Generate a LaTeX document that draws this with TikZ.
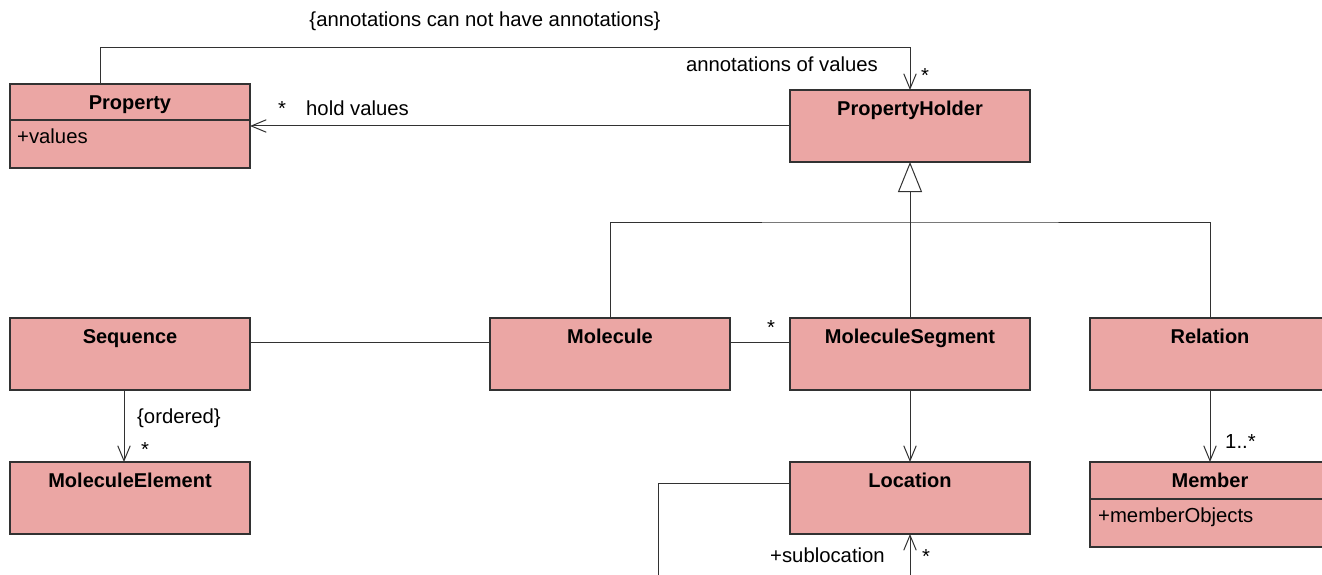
\documentclass[tikz,border=0pt]{standalone}
\usepackage{fontspec}
\setmainfont{Liberation Sans}
\usetikzlibrary{arrows.meta}
\definecolor{clsfill}{RGB}{235,166,164}
\definecolor{edgec}{RGB}{50,50,50}
\begin{document}
\begin{tikzpicture}[x=1pt,y=-1pt,
  cls/.style={draw=edgec, fill=clsfill, line width=1.2pt, minimum width=240pt, minimum height=72pt, anchor=north west, inner sep=0pt, outer sep=0pt},
  ttl/.style={font=\fontsize{20}{23}\selectfont\bfseries, anchor=base, inner sep=0pt},
  lbl/.style={font=\fontsize{20.3}{23}\selectfont, inner sep=0pt, anchor=base west},
  conn/.style={draw=edgec, line width=1pt},
  nav/.style={conn, -{Straight Barb[length=15pt,width=12.5pt,line width=1pt]}},
  gen/.style={conn, -{Triangle[length=30pt,width=24pt,fill=white,line width=1pt]}}
]
\useasboundingbox (0,0) rectangle (1322,575);
\clip (0,0) rectangle (1322,575);
\fill[white] (0,0) rectangle (1322,575);

% classes
\node[cls, minimum height=84pt] (prop) at (10,84) {};
\node[cls] (ph) at (790,90) {};
\node[cls] (seq) at (10,318) {};
\node[cls] (mol) at (490,318) {};
\node[cls] (ms) at (790,318) {};
\node[cls] (rel) at (1090,318) {};
\node[cls] (me) at (10,462) {};
\node[cls] (loc) at (790,462) {};
\node[cls, minimum height=85pt] (mem) at (1090,462) {};

% titles
\path (prop.north) ++(0,25.5) node[ttl] (tprop) {Property};
\path (ph.north) ++(0,25.5) node[ttl] (tph) {PropertyHolder};
\path (seq.north) ++(0,25.5) node[ttl] (tseq) {Sequence};
\path (mol.north) ++(0,25.5) node[ttl] (tmol) {Molecule};
\path (ms.north) ++(0,25.5) node[ttl] (tms) {MoleculeSegment};
\path (rel.north) ++(0,25.5) node[ttl] (trel) {Relation};
\path (me.north) ++(0,25.5) node[ttl] (tme) {MoleculeElement};
\path (loc.north) ++(0,25.5) node[ttl] (tloc) {Location};
\path (mem.north) ++(0,25) node[ttl] (tmem) {Member};

% compartments
\draw[conn, line width=1.2pt] ([yshift=-36pt]prop.north west) -- ([yshift=-36pt]prop.north east);
\draw[conn, line width=1.2pt] ([yshift=-37pt]mem.north west) -- ([yshift=-37pt]mem.north east);
\node[lbl] (aprop) at (17,143) {+values};
\node[lbl] (amem) at (1098,522) {+memberObjects};

% connectors
\draw[nav] ([xshift=90pt]prop.north west) -- ++(0,-36) -| (ph.north);
\draw[nav] (ph.west) -- (prop.east);
\coordinate (j) at (910,222);
\draw[gen] (j) -- (ph.south);
\draw[conn] (mol.north) |- (j) -| (rel.north);
\draw[conn] (ms.north) -- (j);
\draw[conn] ([yshift=-24pt]seq.north east) -- ([yshift=-24pt]mol.north west);
\draw[conn] ([yshift=-24pt]mol.north east) -- ([yshift=-24pt]ms.north west);
\draw[nav] ([xshift=-6pt]seq.south) -- ([xshift=-6pt]me.north);
\draw[nav] (ms.south) -- (loc.north);
\draw[nav] (rel.south) -- (mem.north);
\coordinate (lb) at (658,600);
\draw[nav] ([yshift=-21pt]loc.north west) -| (lb) -| (loc.south);

% labels
\node[lbl, anchor=base] (l1) at (485,27) {\{annotations can not have annotations\}};
\node[lbl, anchor=base] (l2) at (782,72) {annotations of values};
\node[lbl] (l3) at (921,83) {*};
\node[lbl] (l4) at (278,116) {*};
\node[lbl] (l5) at (306,116) {hold values};
\node[lbl] (l6) at (137,423) {\{ordered\}};
\node[lbl] (l7) at (141,456) {*};
\node[lbl] (l8) at (767,334) {*};
\node[lbl] (l9) at (770,562) {+sublocation};
\node[lbl] (l10) at (922,563) {*};
\node[lbl] (l11) at (1225,448) {1..*};
\end{tikzpicture}
\end{document}
